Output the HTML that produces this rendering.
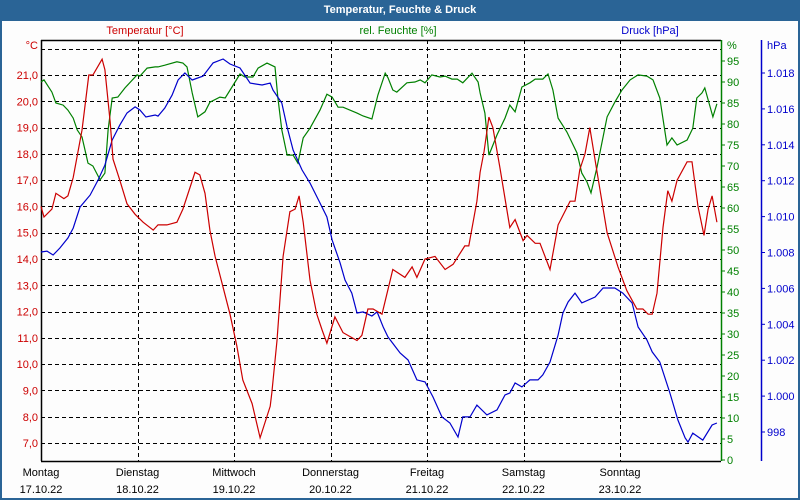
<!DOCTYPE html>
<html><head><meta charset="utf-8">
<style>
html,body{margin:0;padding:0;background:#fff;}
#wrap{position:relative;width:796px;height:496px;border:2px solid #2a6496;background:#fdfdfd;overflow:hidden;}
#title{position:absolute;left:0;top:0;width:796px;height:19px;background:#2a6496;color:#fff;font:bold 11px "Liberation Sans",sans-serif;text-align:center;line-height:17px;}
svg text{font-family:"Liberation Sans",sans-serif;font-size:11px;}
</style></head>
<body>
<div id="wrap">
<div id="title">Temperatur, Feuchte &amp; Druck</div>
<svg id="chart" width="796" height="496" style="position:absolute;left:0;top:0"></svg>
</div>
<script>
const dayNames = ["Montag","Dienstag","Mittwoch","Donnerstag","Freitag","Samstag","Sonntag"];
const dayDates = ["17.10.22","18.10.22","19.10.22","20.10.22","21.10.22","22.10.22","23.10.22"];
const tempTicks = [7,8,9,10,11,12,13,14,15,16,17,18,19,20,21,22];
const humTicks = [0,5,10,15,20,25,30,35,40,45,50,55,60,65,70,75,80,85,90,95];
const presTicks = [998,1000,1002,1004,1006,1008,1010,1012,1014,1016,1018];

const tempHours = [0,0.75,2.7,3.7,5.7,6.7,8.0,10.2,11.9,12.9,15.2,15.9,17.2,17.9,19.6,21.4,23.4,25.4,27.9,29.1,31.3,33.8,35.3,38.3,39.5,40.8,42.0,43.3,45.0,47.0,48.7,50.2,52.5,54.5,57.0,57.4,58.7,60.2,61.9,63.2,64.2,65.2,66.9,68.6,69.9,71.1,73.1,75.1,78.6,79.8,81.3,82.6,84.8,87.5,90.5,92.3,93.5,95.5,98.0,100.5,102.5,105.4,106.4,108.4,109.2,110.2,111.4,112.4,114.1,116.6,117.9,119.9,120.9,122.9,124.1,126.6,128.6,131.6,132.8,134.0,135.3,136.5,138.3,140.8,143.5,145.7,148.2,149.7,151.0,152.0,153.2,154.7,155.9,156.9,158.2,160.7,161.9,163.4,164.9,165.9,166.9,168.1];
const tempVals = [16.0,15.6,15.9,16.5,16.3,16.4,17.1,18.9,21.0,21.0,21.6,21.2,19.2,17.8,17.0,16.1,15.7,15.4,15.1,15.3,15.3,15.4,15.9,17.3,17.2,16.5,15.1,14.1,13.1,11.9,10.7,9.4,8.5,7.2,8.4,8.9,10.9,14.1,15.8,15.9,16.4,15.4,13.2,11.9,11.3,10.8,11.8,11.2,10.9,11.1,12.1,12.1,11.9,13.6,13.3,13.7,13.3,14.0,14.1,13.6,13.8,14.5,14.5,16.2,17.3,18.1,19.4,19.0,17.5,15.2,15.5,14.7,14.9,14.6,14.6,13.6,15.3,16.2,16.2,17.4,18.0,19.0,17.3,15.0,13.7,12.8,12.1,12.1,11.9,11.9,12.7,15.2,16.6,16.2,17.0,17.7,17.7,16.0,14.9,15.9,16.4,15.4];

const humHours = [0,0.75,2.7,3.7,5.5,6.7,8.0,9.0,10.2,11.7,12.9,14.7,15.9,16.7,17.7,19.1,20.9,23.9,24.6,26.4,28.4,29.1,30.8,33.8,35.3,36.3,37.6,39.0,40.8,42.0,44.5,45.8,47.5,49.5,50.7,52.7,54.0,56.2,58.2,58.9,59.9,61.2,62.7,63.9,65.2,66.9,69.4,71.1,72.4,73.9,75.1,78.6,80.1,82.3,83.8,85.6,86.3,87.5,88.5,91.0,93.0,94.3,95.5,97.2,99.2,100.5,102.2,103.5,104.9,107.2,108.7,109.2,110.4,111.4,113.4,115.4,116.6,117.9,119.6,121.6,122.9,124.8,126.1,127.3,128.6,130.8,133.3,134.5,135.8,136.8,138.3,140.8,142.7,144.5,146.5,148.5,150.7,152.2,153.9,155.7,156.9,158.2,160.7,162.1,163.1,164.4,165.1,167.1,168.1];
const humVals = [90.0,90.5,87.6,85.0,84.5,83.3,81.4,78.6,76.9,70.7,70.0,66.7,68.3,78.6,86.2,86.4,88.6,91.7,91.4,93.3,93.6,93.6,94.0,94.8,94.5,93.6,87.4,81.7,82.9,85.2,86.4,86.2,88.8,91.9,91.2,91.2,93.3,94.5,93.6,86.4,78.6,72.6,72.6,70.7,76.7,79.0,83.3,87.1,86.4,84.0,84.0,82.6,81.9,81.2,86.9,92.1,91.0,88.1,87.6,89.8,90.0,90.5,89.8,91.7,91.2,91.4,90.7,90.7,89.8,92.1,90.0,87.4,82.6,72.6,77.4,81.4,84.5,82.9,88.8,89.8,90.7,90.7,91.9,88.1,81.4,78.1,73.1,68.3,66.2,63.6,69.8,81.7,85.2,88.1,90.5,91.7,91.4,90.5,86.2,75.0,76.7,75.0,76.2,79.0,86.2,87.4,88.6,81.7,84.8];

const presHours = [0,1.5,3.0,4.7,6.7,8.0,9.7,12.2,14.2,15.9,17.7,19.6,21.4,23.4,24.6,26.1,28.4,29.1,30.8,32.6,34.1,35.8,37.6,40.3,42.8,45.3,47.0,49.5,52.0,55.0,57.0,57.7,59.9,61.2,62.7,64.9,66.9,69.4,71.1,72.4,74.4,75.6,77.3,78.6,80.1,82.3,83.6,85.1,86.3,89.3,91.3,93.5,95.5,97.5,99.7,101.7,103.7,104.9,106.7,108.4,110.9,113.4,115.4,116.6,117.9,119.6,121.6,123.6,124.8,126.6,128.6,129.8,131.1,132.8,134.5,137.8,139.8,142.7,144.7,147.0,148.5,150.7,152.0,153.9,156.4,158.4,160.2,160.9,162.1,164.6,166.9,168.1];
const presVals = [1008.03,1008.08,1007.86,1008.25,1008.81,1009.36,1010.53,1011.20,1012.04,1012.87,1014.27,1015.10,1015.77,1016.11,1015.94,1015.55,1015.66,1015.60,1016.05,1016.77,1017.61,1018.00,1017.61,1017.83,1018.56,1018.78,1018.50,1018.28,1017.44,1017.33,1017.44,1017.05,1016.33,1014.99,1013.71,1012.60,1011.87,1010.76,1009.98,1008.70,1007.42,1006.47,1005.74,1004.63,1004.69,1004.46,1004.69,1003.85,1003.29,1002.40,1002.01,1000.90,1000.79,999.95,998.84,998.50,997.72,998.84,998.84,999.50,998.95,999.23,1000.06,1000.17,1000.73,1000.51,1000.90,1000.90,1001.18,1001.90,1003.40,1004.63,1005.24,1005.74,1005.19,1005.52,1006.02,1006.02,1005.74,1005.19,1003.85,1003.13,1002.46,1001.90,1000.17,998.67,997.67,997.44,997.94,997.55,998.39,998.50];

const NS = "http://www.w3.org/2000/svg";
const svg = document.getElementById("chart");
const L = 39, R = 719, T = 38, B = 459;
const xH = h => L + h * (96.5 / 24);
const yT = v => 73 - (v - 21) * 26.29;
const yHum = v => 458 - v * 4.2;
const yP = v => 71 - (v - 1018) * 17.95;

function mk(tag, attrs, parent) {
  const e = document.createElementNS(NS, tag);
  for (const k in attrs) e.setAttribute(k, attrs[k]);
  (parent || svg).appendChild(e);
  return e;
}
function txt(x, y, s, fill, anchor) {
  const t = mk("text", {x: x, y: y, fill: fill, "text-anchor": anchor || "start"});
  t.textContent = s;
  return t;
}

// horizontal grid
tempTicks.forEach(v => {
  const l = mk("line", {x1: L, x2: R, y1: Math.round(yT(v)) + 0.5, y2: Math.round(yT(v)) + 0.5, stroke: "#000", "stroke-dasharray": "4,3"});
  
  
});
// vertical day grid
for (let d = 1; d < dayNames.length; d++) {
  const x = Math.round(xH(d * 24)) + 0.5;
  const l = mk("line", {x1: x, x2: x, y1: T, y2: B, stroke: "#000", "stroke-dasharray": "4,3"});
  
  
}
// frame
let fr = mk("line", {x1: L, x2: R, y1: T + 0.5, y2: T + 0.5, stroke: "#000", "stroke-width": 1.5});
 
fr = mk("line", {x1: L + 0.5, x2: L + 0.5, y1: T, y2: B, stroke: "#000", "stroke-width": 1.5});
 
fr = mk("line", {x1: L, x2: R, y1: B + 0.5, y2: B + 0.5, stroke: "#000", "stroke-width": 1.5});
 
fr = mk("line", {x1: R + 0.5, x2: R + 0.5, y1: T, y2: B, stroke: "#008000", "stroke-width": 1.5});
 
fr = mk("line", {x1: 759.5, x2: 759.5, y1: T, y2: B, stroke: "#0000cc", "stroke-width": 1.5});
 

// temp labels
tempTicks.forEach(v => {
  if (v === 22) return;
  const t = txt(36, yT(v) + 4, v.toFixed(1).replace(".", ","), "#cc0000", "end");
  
  
});
let u = txt(36, 47, "°C", "#cc0000", "end");
 
// humidity labels
humTicks.forEach(v => {
  const y = yHum(v);
  const tk = mk("line", {x1: R, x2: R + 4, y1: y, y2: y, stroke: "#008000"});
  
  
  const t = txt(725, y + 4, String(v), "#008000");
  
  
});
u = txt(725, 47, "%", "#008000");
 
// pressure labels
presTicks.forEach(v => {
  const y = yP(v);
  const tk = mk("line", {x1: 759, x2: 763, y1: y, y2: y, stroke: "#0000cc"});
  
  
  const t = txt(765, y + 4, (v >= 1000 ? "1." + String(v).slice(1) : String(v)), "#0000cc");
  
  
});
u = txt(765, 47, "hPa", "#0000cc");
 

// series titles
let st = txt(143, 32, "Temperatur [°C]", "#cc0000", "middle");
 
st = txt(396, 32, "rel. Feuchte [%]", "#008000", "middle");
 
st = txt(648, 32, "Druck [hPa]", "#0000cc", "middle");
 

// day labels
dayNames.forEach((n, i) => {
  const x = xH(i * 24);
  const a = txt(x, 474, n, "#000", "middle");
  
  
  const b = txt(x, 491, dayDates[i], "#000", "middle");
  
  
});

function series(hours, vals, yf, color, name) {
  const pts = hours.map((h, i) => xH(h).toFixed(1) + "," + yf(vals[i]).toFixed(1)).join(" ");
  const p = mk("polyline", {points: pts, fill: "none", stroke: color, "stroke-width": 1.2});
  
  
}
series(humHours, humVals, yHum, "#008000", "humidity-line");
series(presHours, presVals, yP, "#0000cc", "pressure-line");
series(tempHours, tempVals, yT, "#cc0000", "temperature-line");
</script>
</body></html>
